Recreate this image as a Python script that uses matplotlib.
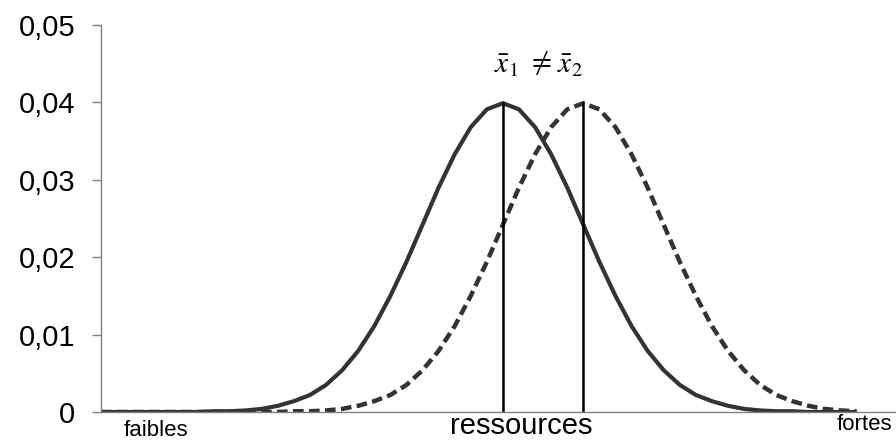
import matplotlib.pyplot as plt

plt.rcParams['font.family'] = ['Liberation Sans', 'DejaVu Sans']
plt.rcParams['mathtext.fontset'] = 'stix'

# resource level (x) and the two distributions
x_vals = list(range(0, 96, 2))
groupe_1 = [0, 0, 0, 0, 0, 0, 0, 0.0001, 0.0001, 0.0002,
            0.0004, 0.0008, 0.0014, 0.0022, 0.0035, 0.0054, 0.0079, 0.0111, 0.0150, 0.0194,
            0.0242, 0.0290, 0.0333, 0.0368, 0.0391, 0.0399, 0.0391, 0.0368, 0.0333, 0.0290,
            0.0242, 0.0194, 0.0150, 0.0111, 0.0079, 0.0054, 0.0035, 0.0022, 0.0014, 0.0008,
            0.0004, 0.0002, 0.0001, 0.0001, 0, 0, 0, 0]
groupe_2 = [0, 0, 0, 0, 0, 0, 0, 0, 0, 0,
            0, 0, 0.0001, 0.0001, 0.0002, 0.0004, 0.0008, 0.0014, 0.0022, 0.0035,
            0.0054, 0.0079, 0.0111, 0.0150, 0.0194, 0.0242, 0.0290, 0.0333, 0.0368, 0.0391,
            0.0399, 0.0391, 0.0368, 0.0333, 0.0290, 0.0242, 0.0194, 0.0150, 0.0111, 0.0079,
            0.0054, 0.0035, 0.0022, 0.0014, 0.0008, 0.0004, 0.0002, 0.0001]
means = [50, 60]
peak = 0.04

y_ticks = [0, 0.01, 0.02, 0.03, 0.04, 0.05]
y_labels = ['0', '0,01', '0,02', '0,03', '0,04', '0,05']

fig = plt.figure(figsize=(8.96, 4.42), dpi=100)
ax = fig.add_axes([101 / 896, 30 / 442, 795 / 896, 387 / 442])

ax.plot(x_vals, groupe_1, color='#333333', lw=3, solid_capstyle='butt')
ax.plot(x_vals, groupe_2, color='#333333', lw=3.2, dashes=(2.4, 1.2))
ax.vlines(means, 0, peak, color='black', lw=1.8)

ax.set_xlim(0, 98.9)
ax.set_ylim(0, 0.05)
ax.set_yticks(y_ticks)
ax.set_yticklabels(y_labels, fontsize=21)
ax.set_xticks([])
ax.tick_params(axis='y', length=6.5, width=1, color='#808080', pad=12)
for s in ['top', 'right']:
    ax.spines[s].set_visible(False)
for s in ['left', 'bottom']:
    ax.spines[s].set_color('#808080')
    ax.spines[s].set_linewidth(1)

fig.text(156 / 896, 1 - 430 / 442, 'faibles', fontsize=16, ha='center', va='center')
fig.text(521 / 896, 1 - 426 / 442, 'ressources', fontsize=21, ha='center', va='center')
fig.text(864 / 896, 1 - 425 / 442, 'fortes', fontsize=16, ha='center', va='center')

fig.text(506 / 896, 1 - 65 / 442, r'$\bar{x}_1$', fontsize=21, ha='center', va='center')
fig.text(539 / 896, 1 - 63 / 442, r'$\neq$', fontsize=21, ha='center', va='center')
fig.text(570 / 896, 1 - 65 / 442, r'$\bar{x}_2$', fontsize=21, ha='center', va='center')

fig.savefig('out.png', dpi=100)
